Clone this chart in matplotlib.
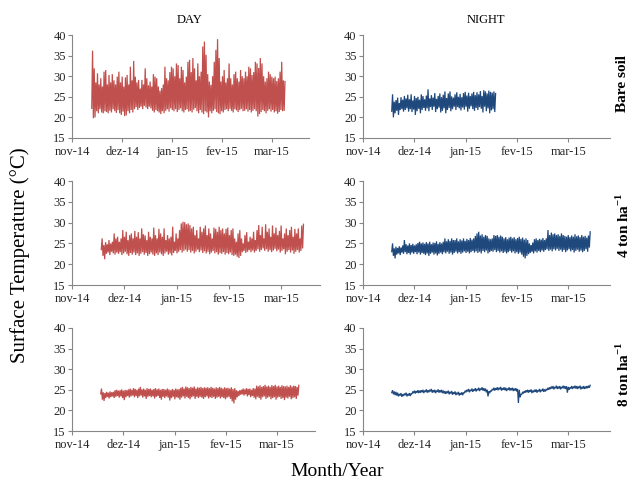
import numpy as np
import matplotlib
matplotlib.use("Agg")
import matplotlib.pyplot as plt

plt.rcParams['font.family'] = ['Liberation Serif', 'DejaVu Serif']
plt.rcParams['mathtext.fontset'] = 'custom'
plt.rcParams['mathtext.rm'] = 'Liberation Serif'
plt.rcParams['mathtext.bf'] = 'Liberation Serif:bold'

# ---------------- data (daily high / low surface temperature, deg C) ----------------
month_labels = ['nov-14', 'dez-14', 'jan-15', 'fev-15', 'mar-15']
col_titles = ['DAY', 'NIGHT']
row_labels = ['Bare soil', '4 ton ha$^{\\mathbf{-1}}$', '8 ton ha$^{\\mathbf{-1}}$']

# first day of each series, in days since 1 Nov 2014
start_bare_day = 12
start_bare_night = 17
start_4t_day = 17
start_4t_night = 17
start_8t_day = 17
start_8t_night = 17

bare_day_high = [
    36.2, 31.9, 28.5, 30.7, 28.0, 29.5, 27.5, 31.1, 31.5, 28.0,
    30.3, 28.5, 30.5, 29.0, 28.0, 29.9, 31.1, 28.5, 29.9, 27.5,
    29.7, 30.3, 28.0, 32.3, 29.0, 33.7, 29.9, 28.5, 29.1, 27.0,
    29.1, 28.0, 31.9, 29.5, 27.8, 28.7, 27.5, 30.5, 29.9, 29.5,
    27.5, 26.5, 27.1, 28.0, 32.3, 29.5, 29.0, 31.0, 32.3, 31.9,
    30.0, 33.1, 32.7, 29.5, 32.3, 31.5, 28.5, 29.9, 33.5, 34.0,
    31.0, 34.4, 31.9, 29.0, 33.1, 30.0, 31.1, 37.2, 38.4, 35.2,
    30.5, 28.7, 27.9, 30.0, 33.5, 36.4, 39.0, 34.4, 28.7, 30.0,
    31.5, 28.5, 29.5, 33.1, 29.5, 28.0, 30.5, 31.1, 29.5, 28.7,
    31.5, 30.0, 29.5, 31.1, 30.0, 32.3, 31.9, 30.3, 31.0, 33.5,
    33.1, 32.0, 34.4, 33.1, 30.0, 28.7, 29.5, 31.1, 30.5, 29.9,
    29.5, 29.9, 28.8, 29.5, 31.1, 33.5, 29.0, 28.7]
bare_day_low = [
    22.2, 19.8, 20.0, 21.5, 21.0, 22.0, 21.2, 21.0, 21.5, 21.3,
    21.0, 21.6, 21.2, 22.0, 21.5, 21.1, 21.8, 21.0, 20.6, 21.4,
    20.3, 20.5, 21.5, 21.0, 21.8, 21.2, 22.0, 22.5, 21.8, 22.3,
    22.6, 22.0, 22.8, 22.4, 22.0, 22.6, 22.2, 21.6, 21.2, 21.8,
    21.5, 21.2, 20.8, 21.5, 21.0, 21.6, 22.0, 21.4, 22.2, 21.8,
    21.5, 22.0, 21.3, 21.8, 22.2, 21.5, 21.2, 21.8, 22.0, 21.4,
    21.6, 21.2, 21.9, 22.3, 21.5, 21.0, 21.8, 21.2, 20.8, 21.5,
    21.2, 20.0, 21.5, 21.0, 21.6, 22.0, 21.3, 21.0, 20.8, 21.5,
    21.2, 21.8, 22.0, 21.5, 22.1, 21.6, 21.2, 22.0, 21.7, 21.3,
    21.8, 22.1, 21.5, 21.6, 22.0, 21.4, 21.8, 21.2, 21.6, 22.0,
    21.5, 20.2, 20.8, 21.3, 21.8, 21.5, 21.0, 21.6, 22.0, 21.4,
    21.8, 21.2, 21.5, 20.9, 21.3, 21.8, 21.5, 21.6]

bare_night_high = [
    25.6, 23.8, 24.2, 24.8, 23.5, 24.9, 24.3, 25.2, 24.6, 25.5,
    24.4, 25.6, 24.1, 25.2, 24.7, 25.0, 24.3, 25.6, 25.2, 24.4,
    25.3, 26.8, 24.6, 25.4, 24.8, 25.9, 24.5, 25.2, 25.8, 24.9,
    25.5, 26.3, 24.7, 25.8, 26.3, 25.1, 24.8, 25.6, 26.1, 25.0,
    25.7, 24.9, 25.9, 26.2, 25.3, 26.0, 25.2, 25.8, 26.2, 25.4,
    26.1, 25.6, 26.4, 25.2, 26.6, 26.3, 25.8, 26.5, 26.2, 26.0,
    26.3, 25.8]
bare_night_low = [
    21.5, 20.0, 21.0, 21.6, 20.6, 21.8, 22.0, 21.4, 21.8, 22.2,
    21.4, 22.0, 21.3, 21.9, 20.6, 21.5, 22.1, 21.0, 21.8, 22.3,
    21.6, 22.2, 21.5, 22.5, 21.8, 22.6, 21.3, 22.0, 22.4, 21.2,
    21.6, 22.2, 21.0, 21.8, 22.3, 21.5, 22.0, 22.6, 21.8, 22.5,
    22.2, 21.7, 22.4, 21.9, 22.6, 21.4, 22.1, 22.7, 22.0, 21.6,
    22.3, 21.8, 22.5, 22.1, 21.2, 22.6, 21.5, 22.2, 21.0, 21.7,
    22.0, 21.3]

t4_day_high = [
    26.2, 24.6, 25.3, 24.8, 25.8, 25.0, 25.4, 27.4, 26.2, 26.6,
    25.4, 26.2, 28.2, 26.6, 27.8, 25.8, 27.0, 27.4, 26.2, 28.0,
    26.6, 27.7, 26.2, 28.6, 27.2, 26.9, 25.8, 27.8, 26.6, 26.2,
    28.8, 27.0, 26.2, 28.5, 27.4, 26.6, 28.6, 25.8, 27.0, 26.2,
    26.6, 29.0, 25.4, 27.4, 26.2, 28.2, 29.8, 30.2, 30.1, 29.6,
    29.8, 29.4, 28.6, 29.0, 27.0, 28.2, 26.2, 29.0, 27.8, 28.6,
    29.3, 27.0, 28.6, 27.4, 26.2, 28.8, 28.5, 27.8, 29.0, 28.2,
    28.6, 27.4, 28.5, 28.8, 27.0, 28.2, 28.6, 26.2, 25.4, 27.4,
    28.2, 26.2, 25.0, 27.0, 27.7, 25.4, 26.6, 26.2, 27.8, 25.8,
    28.2, 29.4, 27.0, 29.0, 26.2, 29.6, 27.8, 28.6, 26.6, 29.3,
    27.4, 28.8, 27.0, 28.0, 29.3, 26.2, 27.4, 28.6, 27.0, 28.2,
    29.0, 26.6, 28.5, 27.4, 28.6, 26.2, 29.3, 29.6]
t4_day_low = [
    23.5, 22.0, 21.2, 22.5, 22.8, 22.2, 23.0, 22.6, 22.3, 22.8,
    22.5, 22.9, 22.2, 22.6, 23.0, 22.4, 22.0, 22.7, 22.3, 22.8,
    22.2, 22.6, 22.0, 22.5, 22.9, 22.3, 22.7, 22.0, 22.4, 22.8,
    22.3, 22.0, 22.6, 22.2, 22.8, 22.4, 22.0, 22.6, 23.0, 22.3,
    22.6, 22.1, 22.8, 23.2, 22.6, 23.0, 23.4, 22.8, 23.2, 23.5,
    23.0, 23.4, 22.8, 23.2, 22.6, 23.0, 23.5, 22.9, 23.3, 22.7,
    23.1, 22.6, 23.0, 22.4, 22.8, 23.2, 22.6, 22.9, 22.3, 22.7,
    22.5, 22.9, 22.3, 22.7, 22.4, 22.8, 22.2, 22.0, 22.3, 21.8,
    21.5, 22.0, 22.9, 23.2, 22.7, 23.0, 23.4, 22.9, 23.3, 22.8,
    23.2, 23.6, 23.0, 23.4, 23.8, 23.2, 23.6, 23.0, 23.4, 22.9,
    23.3, 23.7, 23.1, 23.5, 22.8, 23.2, 23.6, 22.4, 23.0, 23.4,
    22.8, 23.3, 22.5, 23.0, 23.4, 22.8, 23.2, 23.8]

t4_night_high = [
    25.0, 23.8, 24.2, 23.9, 24.3, 24.0, 24.5, 25.8, 24.8, 24.5,
    25.0, 24.6, 24.9, 24.5, 24.8, 25.1, 25.4, 25.0, 25.2, 24.9,
    25.3, 25.0, 25.4, 24.8, 25.2, 25.1, 25.5, 24.9, 25.3, 25.0,
    25.4, 26.2, 25.5, 26.0, 25.6, 26.2, 25.8, 25.8, 26.2, 25.5,
    26.0, 25.7, 26.2, 25.6, 26.1, 25.8, 26.3, 25.9, 26.2, 26.8,
    27.4, 27.8, 26.9, 27.2, 26.6, 27.0, 26.8, 26.2, 26.0, 26.2,
    27.0, 26.8, 27.0, 26.6, 26.9, 26.6, 26.2, 26.5, 26.0, 26.4,
    26.6, 26.2, 26.5, 26.0, 26.3, 26.6, 26.1, 26.4, 25.9, 26.2,
    25.8, 25.0, 24.6, 25.2, 26.0, 26.2, 25.8, 26.1, 25.9, 26.3,
    25.8, 26.2, 28.2, 27.0, 27.6, 27.2, 27.4, 27.0, 27.2, 26.8,
    27.4, 27.0, 26.8, 26.6, 27.0, 26.5, 26.9, 26.6, 27.2, 26.7,
    26.9, 26.5, 27.0, 26.6, 26.8, 26.4, 26.9, 27.8]
t4_night_low = [
    23.0, 22.0, 21.4, 22.3, 22.6, 22.2, 22.8, 22.5, 22.9, 22.4,
    22.7, 22.3, 22.8, 22.5, 22.9, 22.4, 22.8, 22.3, 22.7, 22.5,
    22.2, 22.6, 22.0, 22.5, 22.8, 22.3, 22.6, 22.1, 22.5, 22.8,
    22.4, 22.9, 22.6, 23.0, 22.5, 22.8, 22.3, 22.7, 23.0, 22.6,
    22.9, 22.5, 22.8, 23.1, 22.7, 23.0, 22.6, 22.9, 23.2, 22.8,
    23.1, 22.7, 23.0, 22.6, 23.2, 22.9, 23.3, 22.6, 22.9, 23.2,
    23.0, 23.4, 22.9, 23.2, 22.8, 23.1, 22.7, 23.0, 22.6, 22.9,
    23.2, 22.8, 23.1, 22.6, 22.9, 22.5, 22.8, 22.3, 21.8, 21.4,
    22.0, 22.4, 22.7, 23.0, 22.6, 23.1, 22.8, 23.2, 22.9, 23.3,
    23.0, 23.4, 23.6, 23.2, 23.5, 23.1, 23.6, 23.3, 23.7, 23.2,
    23.5, 23.0, 23.4, 22.9, 23.3, 23.6, 23.1, 23.4, 22.8, 23.2,
    23.5, 23.0, 23.3, 22.9, 23.2, 23.6, 23.0, 24.0]

t8_day_high = [
    25.3, 24.4, 24.2, 24.5, 24.3, 24.6, 24.4, 24.5, 24.9, 25.0,
    24.8, 24.9, 25.1, 24.8, 25.0, 24.9, 25.1, 25.3, 25.0, 25.4,
    25.2, 25.0, 25.3, 25.7, 25.1, 25.3, 25.0, 25.4, 25.2, 25.3,
    25.0, 25.2, 25.4, 25.1, 25.3, 25.0, 25.2, 25.2, 25.0, 25.3,
    25.1, 24.9, 25.2, 25.0, 25.3, 25.1, 25.2, 25.5, 25.7, 25.3,
    25.8, 25.6, 25.4, 25.7, 25.5, 25.8, 25.3, 25.6, 25.5, 25.7,
    25.4, 25.6, 25.5, 25.6, 25.4, 25.7, 25.5, 25.3, 25.6, 25.4,
    25.7, 25.5, 25.3, 25.6, 25.4, 25.5, 25.3, 25.6, 25.2, 25.4,
    24.9, 24.7, 24.9, 25.0, 25.3, 25.1, 25.4, 25.2, 25.3, 25.0,
    25.4, 25.3, 26.0, 25.8, 26.1, 25.7, 25.9, 26.2, 25.8, 26.0,
    25.7, 26.1, 25.9, 26.2, 25.8, 26.0, 25.7, 26.1, 25.9, 25.8,
    26.0, 25.7, 26.1, 25.8, 26.0, 25.9, 25.7, 26.1]
t8_day_low = [
    24.0, 22.6, 22.3, 23.0, 23.3, 22.9, 23.2, 23.4, 23.0, 23.3,
    23.5, 23.1, 23.4, 23.0, 22.5, 23.2, 23.5, 23.1, 23.4, 23.6,
    23.2, 23.5, 23.0, 23.4, 23.6, 23.1, 23.4, 22.8, 23.3, 23.5,
    23.2, 23.4, 22.9, 23.3, 23.5, 23.0, 22.6, 23.3, 23.0, 23.4,
    23.1, 22.4, 23.0, 23.3, 22.7, 23.2, 23.0, 22.6, 23.1, 23.4,
    22.9, 23.3, 23.0, 22.7, 23.2, 23.4, 22.8, 23.3, 23.0, 23.3,
    23.1, 22.8, 23.2, 23.4, 22.9, 23.2, 23.0, 23.3, 22.8, 23.1,
    23.3, 22.9, 23.2, 23.0, 22.7, 23.1, 23.3, 22.8, 22.2, 21.7,
    22.6, 23.2, 23.5, 23.8, 23.9, 23.6, 23.9, 23.4, 23.7, 23.2,
    23.5, 23.1, 22.7, 23.3, 23.0, 22.6, 23.2, 23.4, 22.8, 23.1,
    23.3, 22.7, 23.0, 23.2, 22.6, 23.1, 23.3, 22.8, 23.0, 22.5,
    23.1, 22.9, 23.3, 22.7, 23.0, 23.2, 22.8, 23.6]

t8_night_high = [
    24.9, 24.6, 24.5, 24.3, 24.0, 24.2, 23.9, 24.1, 24.3, 24.0,
    24.2, 24.1, 24.6, 24.8, 24.7, 24.9, 24.8, 24.9, 25.0, 24.8,
    25.1, 24.9, 25.0, 25.2, 24.9, 25.0, 24.8, 25.1, 24.9, 25.0,
    24.8, 24.7, 24.6, 24.8, 24.5, 24.7, 24.4, 24.6, 24.3, 24.5,
    24.2, 24.4, 24.3, 24.8, 25.0, 25.2, 25.0, 25.3, 25.1, 25.4,
    25.2, 25.5, 25.3, 25.6, 25.4, 25.3, 25.0, 24.6, 24.8, 25.2,
    25.5, 25.4, 25.6, 25.5, 25.7, 25.4, 25.6, 25.5, 25.3, 25.6,
    25.4, 25.5, 25.3, 25.4, 25.2, 25.0, 23.9, 24.5, 24.7, 24.9,
    25.0, 24.9, 25.1, 24.8, 25.0, 25.1, 24.9, 25.2, 25.0, 25.3,
    25.1, 25.2, 25.5, 25.6, 25.8, 25.9, 25.7, 26.0, 25.8, 25.9,
    25.7, 26.0, 25.9, 25.8, 25.7, 25.6, 25.9, 25.8, 26.0, 25.9,
    25.8, 26.0, 25.7, 25.9, 25.8, 25.9, 26.0, 26.1]
t8_night_low = [
    24.3, 23.9, 23.7, 23.6, 23.4, 23.6, 23.3, 23.5, 23.7, 23.4,
    23.6, 23.5, 24.0, 24.2, 24.1, 24.3, 24.2, 24.3, 24.4, 24.2,
    24.5, 24.3, 24.4, 24.6, 24.3, 24.4, 24.2, 24.5, 24.3, 24.4,
    24.2, 24.1, 24.0, 24.2, 23.9, 24.1, 23.8, 24.0, 23.7, 23.9,
    23.6, 23.8, 23.7, 24.2, 24.4, 24.6, 24.4, 24.7, 24.5, 24.8,
    24.6, 24.9, 24.7, 25.0, 24.8, 24.7, 24.4, 23.4, 24.2, 24.6,
    24.9, 24.8, 25.0, 24.9, 25.1, 24.8, 25.0, 24.9, 24.7, 25.0,
    24.8, 24.9, 24.7, 24.8, 24.6, 21.8, 23.2, 23.9, 24.1, 24.3,
    24.4, 24.3, 24.5, 24.2, 24.4, 24.5, 24.3, 24.6, 24.4, 24.7,
    24.5, 24.6, 24.9, 25.0, 25.2, 25.3, 25.1, 25.4, 25.2, 25.3,
    25.1, 25.4, 25.3, 25.2, 24.3, 25.0, 25.3, 25.2, 25.4, 25.3,
    25.2, 25.4, 25.1, 25.3, 25.2, 25.3, 25.4, 25.5]

RED = '#C0504D'
BLUE = '#1F497D'
DAYS_PER_MONTH = 30.4


def zigzag(start, highs, lows):
    n = min(len(highs), len(lows))
    xs, ys = [], []
    for i in range(n):
        xs += [start + i, start + i + 0.5]
        ys += [lows[i], highs[i]]
    return np.array(xs) / DAYS_PER_MONTH, np.array(ys)


panels = [
    # (left, right, top, bottom) in pixels, xmax (months), series, colour
    ((72, 309, 35, 138), 4.74, (start_bare_day, bare_day_high, bare_day_low), RED),
    ((363, 610, 35, 138), 4.81, (start_bare_night, bare_night_high, bare_night_low), BLUE),
    ((72, 320, 181, 285), 4.74, (start_4t_day, t4_day_high, t4_day_low), RED),
    ((363, 610, 181, 285), 4.81, (start_4t_night, t4_night_high, t4_night_low), BLUE),
    ((72, 315, 328, 431), 4.74, (start_8t_day, t8_day_high, t8_day_low), RED),
    ((363, 610, 328, 431), 4.81, (start_8t_night, t8_night_high, t8_night_low), BLUE),
]

W, H = 635, 482
fig = plt.figure(figsize=(W / 100, H / 100), dpi=100)

SPINE = '#868686'
for (l, r, t, b), xmax, (st, hi, lo), col in panels:
    ax = fig.add_axes([l / W, 1 - b / H, (r - l) / W, (b - t) / H])
    x, y = zigzag(st, hi, lo)
    ax.plot(x, y, color=col, lw=0.9, solid_joinstyle='miter')
    ax.set_xlim(0, xmax)
    ax.set_ylim(15, 40)
    ax.set_yticks([15, 20, 25, 30, 35, 40])
    ax.set_xticks(range(len(month_labels)))
    ax.set_xticklabels(month_labels)
    for s in ['top', 'right']:
        ax.spines[s].set_visible(False)
    for s in ['left', 'bottom']:
        ax.spines[s].set_color(SPINE)
        ax.spines[s].set_linewidth(0.8)
    ax.tick_params(axis='both', colors=SPINE, labelcolor='#262626',
                   labelsize=9, length=3, width=0.8, direction='out')
    ax.tick_params(axis='y', pad=1.5)
    ax.tick_params(axis='x', pad=3)
    ax.patch.set_alpha(0)

# column titles
fig.text(190 / W, 1 - 20 / H, col_titles[0], ha='center', va='center', fontsize=9)
fig.text(486 / W, 1 - 20 / H, col_titles[1], ha='center', va='center', fontsize=9)

# row labels
for yc, lab in zip([83, 225, 374], row_labels):
    fig.text(623 / W, 1 - yc / H, lab, rotation=90, ha='center', va='center',
             fontsize=11, fontweight='bold')

fig.text(20 / W, 1 - 255 / H, 'Surface Temperature (°C)', rotation=90,
         ha='center', va='center', fontsize=15)
fig.text(337 / W, 1 - 472 / H, 'Month/Year', ha='center', va='center', fontsize=14)

fig.savefig('out.png', dpi=100)
